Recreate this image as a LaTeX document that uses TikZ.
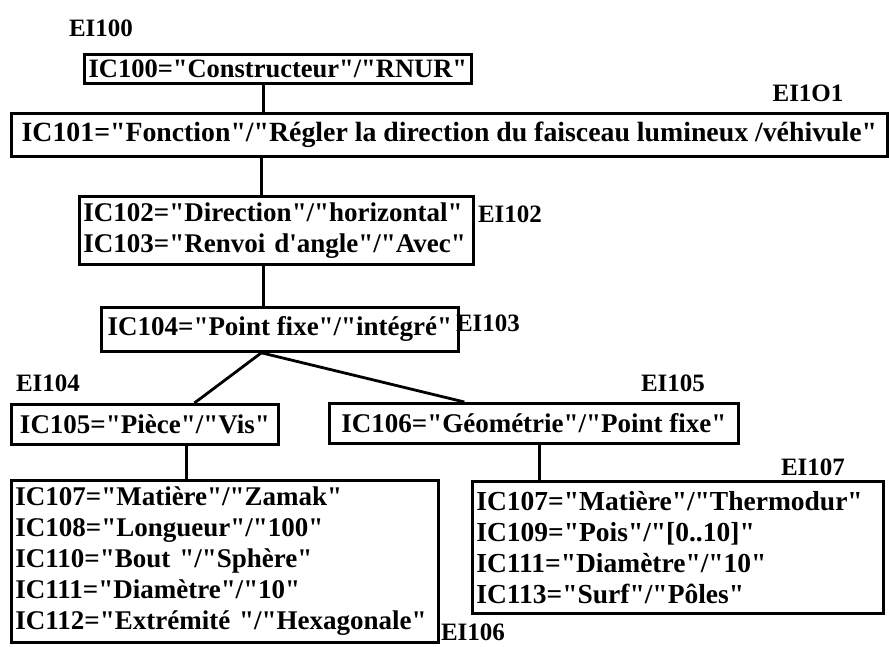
\documentclass[tikz,border=0pt]{standalone}
\usepackage{fontspec}
\newfontfamily\palfont{Liberation Serif}
\usepackage{tikz}
\usetikzlibrary{positioning}

\begin{document}
\begin{tikzpicture}[
  x=1pt, y=-1pt,
  box/.style={draw, line width=2.8pt, anchor=north west, inner xsep=4pt, inner ysep=0pt,
    font=\palfont\bfseries\fontsize{#1}{31}\selectfont},
  box/.default=27,
  one/.style={box=#1, align=center},
  one/.default=27,
  many/.style={box=#1, align=left},
  many/.default=27,
  eitag/.style={inner sep=0pt, font=\palfont\bfseries\fontsize{25}{25}\selectfont},
  link/.style={line width=2.8pt}]
\useasboundingbox (0,0) rectangle (889,646);
% element boxes
\node[one=26.5, minimum width=387pt, minimum height=29pt] (ic100) at (83,53) {IC100="Constructeur"/"RNUR"};
\node[one=27.8, minimum width=876pt, minimum height=43pt] (ic101) at (10,112) {IC101="Fonction"/"Régler la direction du faisceau lumineux /véhivule"};
\node[many, minimum width=394pt, minimum height=68pt, text width=386pt] (ic102) at (78,195) {IC102="Direction"/"horizontal"\\IC103="Renvoi d'angle"/"Avec"};
\node[one, minimum width=357pt, minimum height=44pt] (ic104) at (100,306) {IC104="Point fixe"/"intégré"};
\node[one, minimum width=267pt, minimum height=40pt] (ic105) at (10,403) {IC105="Pièce"/"Vis"};
\node[one, minimum width=409pt, minimum height=40pt] (ic106) at (328,402) {IC106="Géométrie"/"Point fixe"};
\node[many, minimum width=427pt, minimum height=162pt, text width=419pt] (ic107a) at (10,479) {IC107="Matière"/"Zamak"\\IC108="Longueur"/"100"\\IC110="Bout "/"Sphère"\\IC111="Diamètre"/"10"\\IC112="Extrémité "/"Hexagonale"};
\node[many=27.5, minimum width=411pt, minimum height=132pt, text width=403pt] (ic107b) at (471,480) {IC107="Matière"/"Thermodur"\\IC109="Pois"/"[0..10]"\\IC111="Diamètre"/"10"\\IC113="Surf"/"Pôles"};
% EI labels
\node[eitag] (ei100) at (101,28) {EI100};
\node[eitag] (ei101) at (808,93) {EI1O1};
\node[eitag] (ei102) at (510,214) {EI102};
\node[eitag] (ei103) at (488,323) {EI103};
\node[eitag] (ei104) at (48,383) {EI104};
\node[eitag] (ei105) at (673,383) {EI105};
\node[eitag] (ei106) at (473,632) {EI106};
\node[eitag] (ei107) at (813,467) {EI107};
% tree links
\draw[link] ([xshift=-14.5pt]ic100.south) -- ([xshift=-14.5pt]ic100.south |- ic101.north);
\draw[link] ([xshift=-188pt]ic101.south) -- ([xshift=-15pt]ic102.north);
\draw[link] ([xshift=-13pt]ic102.south) -- ([xshift=-16.5pt]ic104.north);
\draw[link] ([xshift=-18.5pt]ic104.south) -- ([xshift=49.5pt]ic105.north);
\draw[link] ([xshift=-18.5pt]ic104.south) -- ([xshift=-69.5pt]ic106.north);
\draw[link] ([xshift=41.5pt]ic105.south) -- ([xshift=-38.5pt]ic107a.north);
\draw[link] ([xshift=5.5pt]ic106.south) -- ([xshift=-138.5pt]ic107b.north);
\end{tikzpicture}
\end{document}
